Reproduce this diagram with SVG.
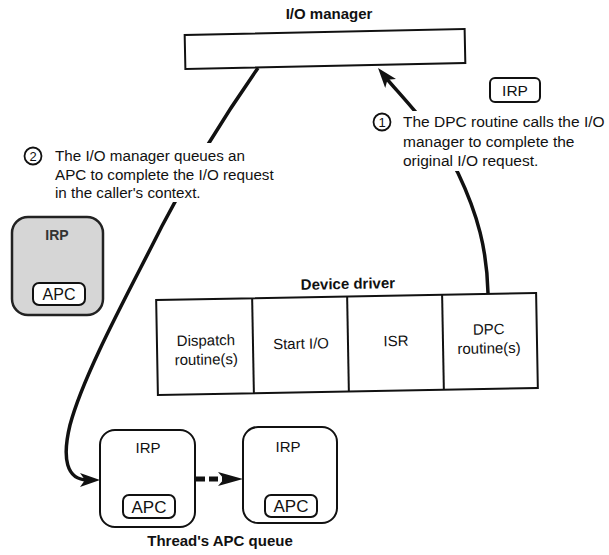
<svg xmlns="http://www.w3.org/2000/svg" width="609" height="555" viewBox="0 0 609 555">
  <style>
    text { font-family: "Liberation Sans", Arial, sans-serif; fill: #111; }
    .title { font-size: 15px; font-weight: bold; text-anchor: middle; }
    .note { font-size: 15.5px; }
    .note2 { font-size: 15.2px; }
    .cell { font-size: 15px; text-anchor: middle; }
    .lbl { font-size: 15px; text-anchor: middle; }
    .apc { font-size: 17px; text-anchor: middle; }
    .num { font-size: 13px; text-anchor: middle; }
    .box { fill: #fff; stroke: #111; stroke-width: 2; }
    .card { fill: #fff; stroke: #111; stroke-width: 2; }
    .tag { fill: #fff; stroke: #111; stroke-width: 2; }
    .ring { fill: #fff; stroke: #111; stroke-width: 1.8; }
    .wire { fill: none; stroke: #111; stroke-width: 3.5; }
    .knock { fill: #fff; stroke: none; }
  </style>
  <defs>
    <marker id="head" viewBox="0 0 20 14" refX="8" refY="7" markerWidth="20" markerHeight="14" markerUnits="userSpaceOnUse" orient="auto">
      <path d="M0,0 L20,7 L0,14 L5,7 z" fill="#111"/>
    </marker>
  </defs>

  <!-- connectors -->
  <g id="connectors">
    <!-- DPC routine back up to the I/O manager -->
    <path class="wire" d="M488,293 C487,250 478,215 458,173 C438,133 400,95 385.6,77.3" marker-end="url(#head)"/>
    <!-- I/O manager down to the thread's APC queue -->
    <path class="wire" d="M258,68 C225,115 190,172 162,226 C132,286 84,372 70,425 C62,458 66,480 88,480" marker-end="url(#head)"/>
    <!-- queue link between the two IRPs -->
    <path d="M196,479 L226,479" fill="none" stroke="#111" stroke-width="5" stroke-dasharray="9 4"/>
    <path d="M218,472 L243,479 L218,486 L224,479 z" fill="#111"/>
  </g>

  <!-- I/O manager -->
  <g id="io-manager">
    <text class="title" x="329" y="19">I/O manager</text>
    <rect class="box" x="185" y="32" width="280" height="34" transform="rotate(-1.2 325 49)"/>
  </g>

  <!-- free IRP -->
  <g id="irp-free">
    <rect class="tag" x="490" y="78" width="50" height="24" rx="5"/>
    <text class="lbl" x="515" y="96" style="font-size:15.5px">IRP</text>
  </g>

  <!-- step 1 note -->
  <g id="note-1">
    <rect class="knock" x="372" y="111" width="237" height="60"/>
    <circle class="ring" cx="382" cy="122" r="8.5"/>
    <text class="num" x="382" y="126.5">1</text>
    <text class="note" x="403" y="127">The DPC routine calls the I/O</text>
    <text class="note" x="403" y="146.5">manager to complete the</text>
    <text class="note" x="403" y="166">original I/O request.</text>
  </g>

  <!-- step 2 note -->
  <g id="note-2">
    <rect class="knock" x="20" y="143" width="265" height="59"/>
    <circle class="ring" cx="33" cy="156" r="8.5"/>
    <text class="num" x="33" y="160.5">2</text>
    <text class="note2" x="55" y="161">The I/O manager queues an</text>
    <text class="note2" x="55" y="179.5">APC to complete the I/O request</text>
    <text class="note2" x="55" y="198">in the caller's context.</text>
  </g>

  <!-- IRP carrying an APC -->
  <g id="irp-apc">
    <rect x="12" y="217" width="91" height="98" rx="16" fill="#d6d6d6" stroke="#222" stroke-width="2.5"/>
    <text class="lbl" x="57" y="240" style="font-size:14px;font-weight:bold;fill:#333">IRP</text>
    <rect class="tag" x="33" y="283" width="52" height="22" rx="6"/>
    <text class="lbl" x="59" y="300" style="font-size:16px">APC</text>
  </g>

  <!-- device driver -->
  <g id="device-driver" transform="rotate(-1.05 347 344)">
    <text class="title" x="349" y="289">Device driver</text>
    <rect class="box" x="157" y="296.5" width="380" height="95"/>
    <line x1="253" y1="296.5" x2="253" y2="391.5" stroke="#111" stroke-width="2"/>
    <line x1="348" y1="296.5" x2="348" y2="391.5" stroke="#111" stroke-width="2"/>
    <line x1="443" y1="296.5" x2="443" y2="391.5" stroke="#111" stroke-width="2"/>
    <text class="cell" x="206" y="343">Dispatch</text>
    <text class="cell" x="206" y="362">routine(s)</text>
    <text class="cell" x="301" y="348">Start I/O</text>
    <text class="cell" x="396" y="347">ISR</text>
    <text class="cell" x="489" y="337">DPC</text>
    <text class="cell" x="489" y="356">routine(s)</text>
  </g>

  <!-- thread's APC queue -->
  <g id="queue-irp-1">
    <rect class="card" x="100" y="430" width="95" height="97" rx="15"/>
    <text class="lbl" x="148" y="453">IRP</text>
    <rect class="tag" x="123" y="495" width="52" height="23" rx="6"/>
    <text class="apc" x="149" y="513">APC</text>
  </g>
  <g id="queue-irp-2">
    <rect class="card" x="243" y="427" width="94" height="96" rx="15"/>
    <text class="lbl" x="288" y="452">IRP</text>
    <rect class="tag" x="265" y="495" width="52" height="22" rx="6"/>
    <text class="apc" x="291" y="512">APC</text>
  </g>
  <g id="queue-label">
    <text class="title" x="220" y="546">Thread's APC queue</text>
  </g>
</svg>
